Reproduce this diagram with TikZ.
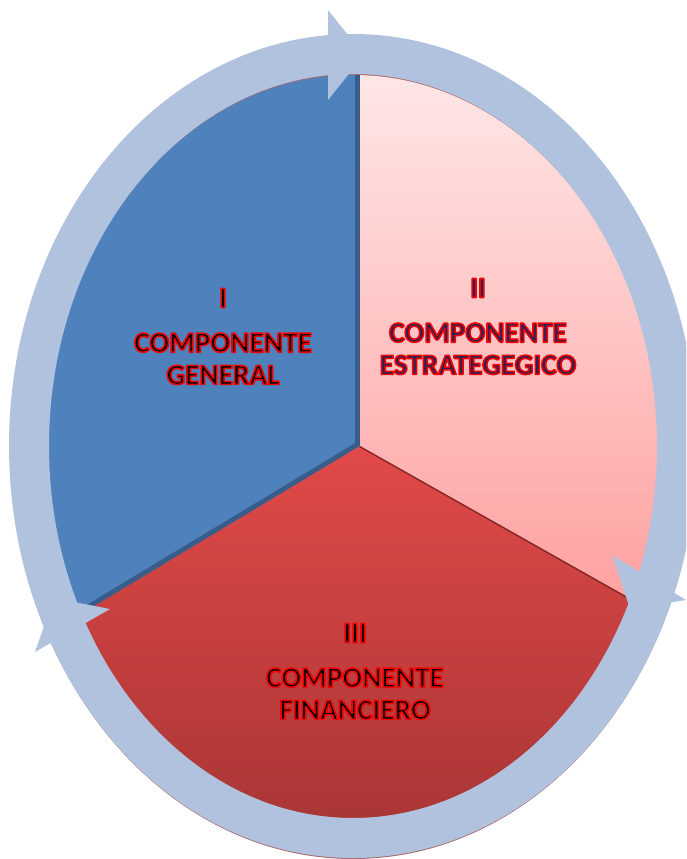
\documentclass[tikz,border=0pt]{standalone}
\usepackage{fontspec}
\setmainfont{Carlito}
\usetikzlibrary{positioning}
\definecolor{ringblue}{RGB}{176,194,222}
\definecolor{secblue}{RGB}{79,129,189}
\definecolor{edgeblue}{RGB}{56,93,138}
\definecolor{pinktop}{RGB}{255,230,230}
\definecolor{pinkbot}{RGB}{255,133,133}
\definecolor{redtop}{RGB}{226,74,72}
\definecolor{redbot}{RGB}{170,54,54}
\definecolor{edgered}{RGB}{130,40,40}
\definecolor{navytext}{RGB}{28,36,96}
% red outline round the letters (fill and stroke)
\newcommand\glow[1]{\special{pdf:code q 2 Tr 1.4 w 0.94 0 0 RG 1 j}#1\special{pdf:code Q}}

\begin{document}
\begin{tikzpicture}[
        x=0.03cm,y=-0.03cm,
        lbl/.style={align=center,inner sep=0pt,font=\fontsize{25}{27.5}\selectfont\bfseries},
        barb/.style={fill=ringblue}
    ]
    \useasboundingbox (0,0) rectangle (686,859);
    \clip (0,0) rectangle (686,859);
    \coordinate (O) at (360,446);
    \coordinate (E) at (353,446.5);
    \coordinate (T) at (360,0);
    \coordinate (L) at (0,663);
    \coordinate (R) at (686,630);
    % shadow under the ring
    \fill[edgered,opacity=.7] (353,448) ellipse (343 and 411);
    % sectors
    \begin{scope}
        \clip (O) -- (T) -- (0,0) -- (L) -- cycle;
        \clip (E) ellipse (305 and 371.5);
        \fill[secblue] (E) ellipse (305 and 371.5);
        \draw[edgeblue,line width=0.3cm] (T) -- (O) -- (L);
    \end{scope}
    \begin{scope}
        \clip (O) -- (T) -- (686,0) -- (R) -- cycle;
        \shade[top color=pinktop,bottom color=pinkbot] (E) ellipse (305 and 371.5);
    \end{scope}
    \begin{scope}
        \clip (O) -- (L) -- (0,859) -- (686,859) -- (R) -- cycle;
        \clip (E) ellipse (305 and 371.5);
        \shade[top color=redtop,bottom color=redbot] (0,440) rectangle (686,820);
        \draw[edgered,line width=0.08cm] (O) -- (R);
    \end{scope}
    % ring with arrow heads
    \draw[ringblue,line width=1.2cm] (353,446) ellipse (324 and 392);
    \coordinate (A1) at (328,10);
    \coordinate (A2) at (364,55);
    \coordinate (A3) at (328,100);
    \fill[barb] (A1) -- (A2) -- (A3) -- cycle;
    \coordinate (B1) at (612,555);
    \coordinate (B2) at (630,609);
    \coordinate (B3) at (686,600);
    \fill[barb] (B1) -- (B2) -- (B3) -- cycle;
    \coordinate (C1) at (35,652);
    \coordinate (C2) at (54,598);
    \coordinate (C3) at (110,609);
    \fill[barb] (C1) -- (C2) -- (C3) -- cycle;
    % labels
    \node[lbl,text=black] (numI) at (223,298) {\glow{I}};
    \node[lbl,text=black,below=0.75cm of numI] (nameI) {\glow{COMPONENTE}\\\glow{GENERAL}};
    \node[lbl,text=navytext] (numII) at (478,288) {\glow{II}};
    \node[lbl,text=navytext,below=0.75cm of numII] (nameII) {\glow{COMPONENTE}\\\glow{ESTRATEGEGICO}};
    \node[lbl,text=black] (numIII) at (355,633) {\glow{III}};
    \node[lbl,text=black,below=0.75cm of numIII] (nameIII) {\glow{COMPONENTE}\\\glow{FINANCIERO}};
\end{tikzpicture}
\end{document}
